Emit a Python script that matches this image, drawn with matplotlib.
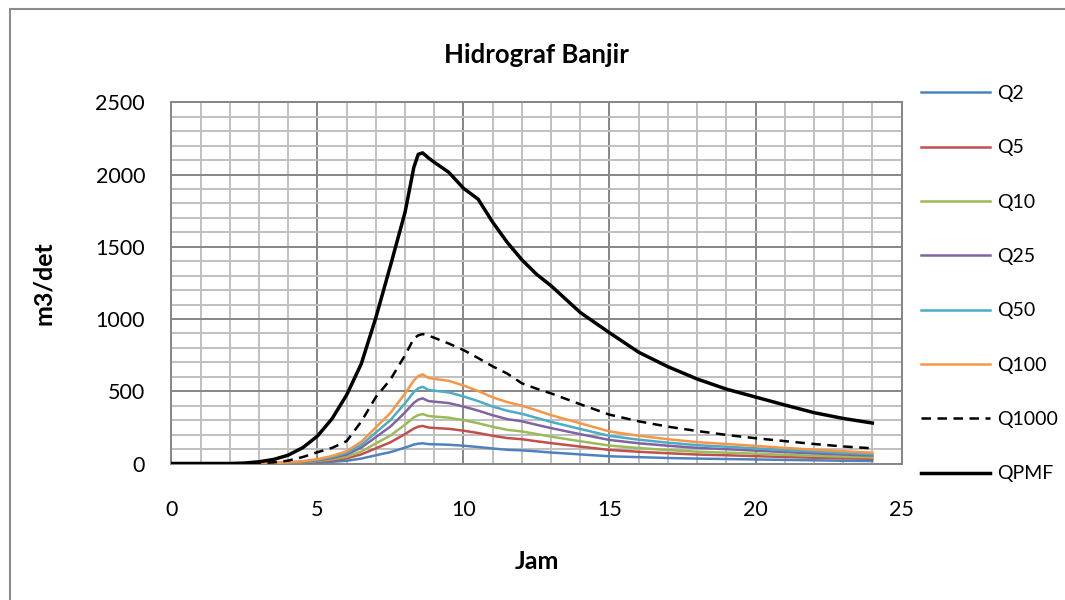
import matplotlib.pyplot as plt
from matplotlib.patches import Rectangle
from matplotlib.ticker import MultipleLocator

plt.rcParams['font.family'] = ['Lato', 'DejaVu Sans']

# jam ke-
jam = [0, 1, 2, 2.5, 3, 3.5, 4, 4.5, 5, 5.5, 6, 6.5, 7, 7.5, 8, 8.3, 8.45, 8.6, 8.8, 9, 9.5,
       10, 10.5, 11, 11.5, 12, 12.5, 13, 14, 15, 16, 17, 18, 19, 20, 21, 22, 23, 24]

# debit banjir (m3/det) per kala ulang
q2 = [0, 0, 0, 0, 0, 1, 2, 4, 7, 12, 19, 34, 57, 79, 110, 131, 137, 140, 134, 133, 130,
      123, 114, 104, 95, 91, 84, 76, 63, 50, 44, 38, 34, 31, 28, 25, 22, 19, 17]
q5 = [0, 0, 0, 0, 0, 1, 3, 7, 13, 22, 36, 63, 105, 147, 204, 242, 255, 260, 249, 246, 240,
      227, 211, 192, 176, 168, 154, 141, 117, 94, 81, 71, 62, 57, 51, 45, 40, 36, 32]
q10 = [0, 0, 0, 0, 1, 2, 4, 9, 17, 29, 47, 83, 139, 194, 269, 319, 335, 342, 329, 325, 317,
       300, 279, 254, 233, 222, 204, 186, 154, 124, 107, 93, 82, 75, 68, 60, 53, 47, 42]
q25 = [0, 0, 0, 0, 1, 2, 6, 12, 22, 38, 62, 110, 183, 256, 354, 420, 442, 451, 432, 428, 418,
       394, 366, 334, 307, 292, 268, 245, 203, 163, 140, 123, 108, 99, 89, 79, 70, 62, 55]
q50 = [0, 0, 0, 0, 1, 3, 7, 14, 26, 45, 73, 129, 215, 301, 417, 495, 520, 531, 509, 504, 492,
       464, 432, 394, 365, 344, 316, 288, 239, 191, 165, 144, 127, 116, 105, 93, 83, 73, 64]
q100 = [0, 0, 0, 0, 1, 3, 8, 16, 30, 52, 85, 150, 250, 350, 485, 575, 605, 617, 592, 586, 572,
        540, 502, 458, 425, 400, 368, 335, 278, 222, 192, 168, 148, 135, 122, 108, 96, 85, 75]
q1000 = [0, 0, 0, 1, 3, 8, 20, 45, 78, 108, 155, 290, 460, 582, 750, 865, 887, 896, 885, 870, 830,
         785, 730, 672, 622, 555, 518, 485, 410, 338, 292, 255, 225, 198, 175, 155, 135, 118, 105]
qpmf = [0, 0, 0, 3, 12, 28, 58, 110, 190, 310, 475, 690, 1010, 1370, 1740, 2050, 2140, 2150, 2115, 2085, 2015,
        1905, 1830, 1670, 1530, 1410, 1310, 1230, 1045, 905, 770, 670, 585, 515, 460, 405, 352, 312, 280]

seri = [
    ('Q2', q2, '#4F81BD', '-', 1.8),
    ('Q5', q5, '#C0504D', '-', 1.8),
    ('Q10', q10, '#9BBB59', '-', 1.8),
    ('Q25', q25, '#8064A2', '-', 1.8),
    ('Q50', q50, '#4BACC6', '-', 1.8),
    ('Q100', q100, '#F79646', '-', 1.8),
    ('Q1000', q1000, 'black', (0, (3.8, 2.6)), 1.8),
    ('QPMF', qpmf, 'black', '-', 2.5),
]

fig = plt.figure(figsize=(10.65, 6), dpi=100)
# bingkai chart
fig.patches.append(Rectangle((10 / 1065, -0.1), 1.2, 1.1 - 9 / 600, transform=fig.transFigure,
                             fill=False, edgecolor='#8c8c8c', linewidth=1.5))
ax = fig.add_axes([0.161, 0.2275, 0.6855, 0.602])

for nama, q, warna, gaya, tebal in seri:
    ax.plot(jam, q, color=warna, linestyle=gaya, linewidth=tebal, label=nama, zorder=3,
            solid_joinstyle='round')

ax.set_xlim(0, 25)
ax.set_ylim(0, 2500)
ax.xaxis.set_major_locator(MultipleLocator(5))
ax.xaxis.set_minor_locator(MultipleLocator(1))
ax.yaxis.set_major_locator(MultipleLocator(500))
ax.yaxis.set_minor_locator(MultipleLocator(100))
ax.grid(which='minor', color='#c0c0c0', linewidth=1.4, zorder=1)
ax.grid(which='major', color='#868686', linewidth=1.4, zorder=2)
ax.set_axisbelow(True)
for s in ax.spines.values():
    s.set_color('#868686')
    s.set_linewidth(1.4)
ax.tick_params(which='both', length=0, labelsize=15.5)
ax.tick_params(axis='x', pad=26)
ax.tick_params(axis='y', pad=19)

ax.set_title('Hidrograf Banjir', fontsize=18.5, fontweight='bold', pad=28)
ax.set_xlabel('Jam', fontsize=18, fontweight='bold')
ax.set_ylabel('m3/det', fontsize=18, fontweight='bold')
ax.xaxis.set_label_coords(0.5, -0.24)
ax.yaxis.set_label_coords(-0.1596, 0.5)

ax.legend(loc='upper left', bbox_to_anchor=(921 / 1065, 0.8583), bbox_transform=fig.transFigure,
          frameon=False, fontsize=14, handlelength=3.55, handletextpad=0.36,
          labelspacing=1.92, borderaxespad=0, borderpad=0)

fig.savefig('out.png', dpi=100)
